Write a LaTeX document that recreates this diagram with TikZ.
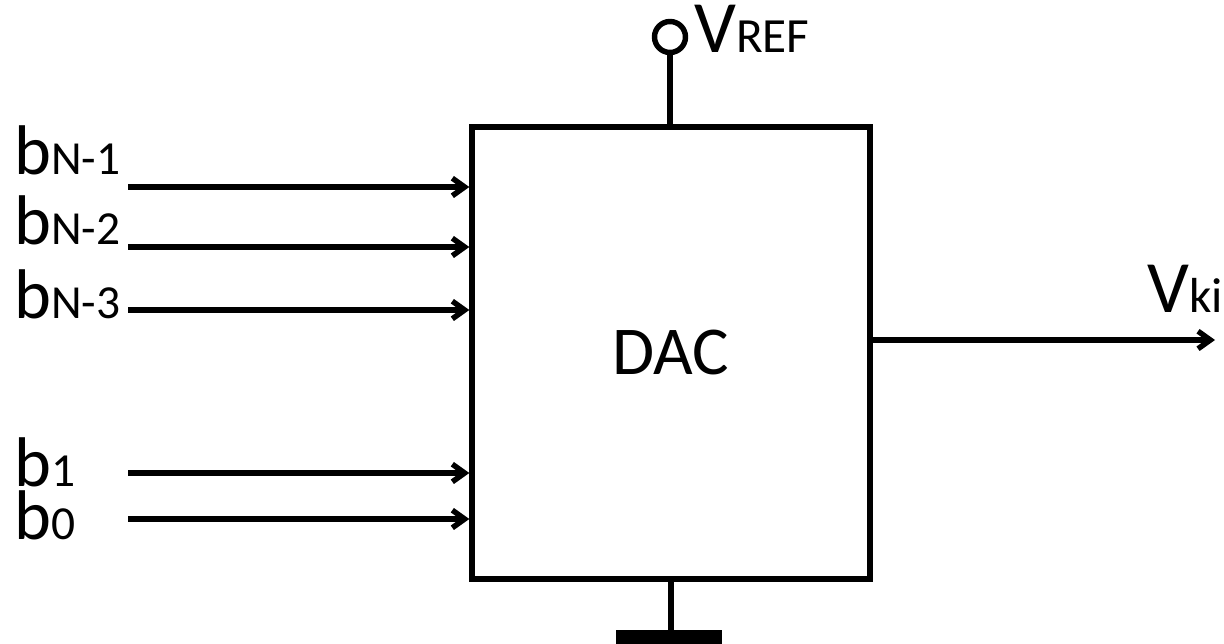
\documentclass[tikz,border=0pt]{standalone}
\usepackage{fontspec}
\setmainfont{Carlito}
\usetikzlibrary{arrows.meta,positioning}
\tikzset{
  wire/.style={line width=3.1pt},
  bitarrow/.style={wire,-{Straight Barb[length=7pt,width=10pt]}},
  pinlabel/.style={anchor=base west,inner sep=0pt},
}
\newcommand{\bitlabel}[1]{\fontsize{40}{40}\selectfont b\fontsize{27}{27}\selectfont #1}
\newcommand{\voltlabel}[1]{\fontsize{42}{42}\selectfont V\fontsize{28}{28}\selectfont #1}
\begin{document}
\begin{tikzpicture}[x=0.02cm,y=-0.02cm]
        \useasboundingbox (0,0) rectangle (1224,644);
        \node[draw,wire,minimum width=7.96cm,minimum height=9.04cm,font=\fontsize{39}{39}\selectfont](dac)at(671,353){DAC};
        % inputs
        \coordinate(inA)at(128,187);
        \coordinate(inB)at(128,247);
        \coordinate(inC)at(128,310);
        \coordinate(inD)at(128,473);
        \coordinate(inE)at(128,519);
        \foreach \p in {inA,inB,inC,inD,inE}
            \draw[bitarrow](\p)--(\p-|dac.west);
        \node[pinlabel](labA)at(14,175){\bitlabel{N-1}};
        \node[pinlabel](labB)at(14,245){\bitlabel{N-2}};
        \node[pinlabel](labC)at(14,319){\bitlabel{N-3}};
        \node[pinlabel](labD)at(14,487){\bitlabel{1}};
        \node[pinlabel](labE)at(14,540){\bitlabel{0}};
        % reference
        \node[circle,draw,wire,minimum size=0.62cm,inner sep=0pt](vref)at(670,37){};
        \draw[wire](vref)--(vref|-dac.north);
        \node[pinlabel](labV)at(694,53){\voltlabel{REF}};
        % output
        \coordinate(out)at(1215,340);
        \draw[bitarrow](dac.east|-out)--(out);
        \node[pinlabel](labO)at(1147,313){\voltlabel{ki}};
        % ground
        \coordinate(gnd)at(671,630);
        \draw[wire](dac.south)--(gnd);
        \fill(616,630)rectangle(722,650);
    \end{tikzpicture}
\end{document}
